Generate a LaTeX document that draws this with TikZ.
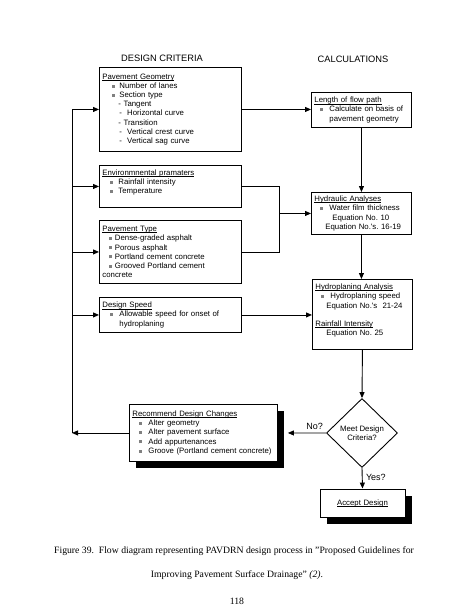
\documentclass[tikz,border=0pt]{standalone}
\usepackage{fontspec}
\setmainfont{Liberation Serif}
\newfontfamily\arial{Liberation Sans}
\usepackage{tikz}
\usetikzlibrary{positioning,arrows.meta,shapes.geometric,shadows}
\frenchspacing
\newcommand{\sqb}{\textcolor{black!50}{\rule[0.8pt]{3pt}{3pt}}}
\newcommand{\ind}[1]{\hspace*{#1pt}}
\newcommand{\ulbox}[1]{\leavevmode\setbox0\hbox{#1}\rlap{\rule[-1.3pt]{\wd0}{0.5pt}}\box0}

\begin{document}
\begin{tikzpicture}[
    x=1pt, y=-1pt,
    >={Triangle[length=6pt,width=5pt]},
    arr/.style={->, line width=0.9pt},
    wire/.style={line width=0.9pt},
    crit/.style={
        rectangle, draw, line width=0.9pt, fill=white, anchor=north west,
        inner xsep=3pt, inner ysep=3pt, align=left,
        font=\arial\fontsize{7.8}{9.2}\selectfont
    },
    calcbox/.style={crit},
    shadowed/.style={
        crit, drop shadow={shadow xshift=7pt, shadow yshift=-7pt, fill=black, opacity=1}
    },
    decide/.style={
        diamond, draw, line width=0.9pt, minimum width=71pt, minimum height=69pt,
        inner sep=0pt, align=center, font=\arial\fontsize{7.8}{9}\selectfont
    },
    head/.style={font=\arial\fontsize{9.3}{11}\selectfont},
    lbl/.style={font=\arial\fontsize{9}{11}\selectfont},
    captext/.style={font=\fontsize{9.7}{12}\selectfont}
]
\useasboundingbox (0,0) rectangle (474,614);

% ---------------- Column heads ----------------
\node[head] (hcrit) at (162,58) {DESIGN CRITERIA};
\node[head] (hcalc) at (353,59) {CALCULATIONS};

% ---------------- Design criteria ----------------
\node[crit, text width=136pt, minimum height=84pt] (geom) at (99,67) {%
\ulbox{Pavement Geometry}\\
\ind{10}\sqb\hspace{4pt}Number of lanes\\
\ind{10}\sqb\hspace{4pt}Section type\\
\ind{16}- Tangent\\
\ind{17}-\ \ Horizontal curve\\
\ind{16}- Transition\\
\ind{17}-\ \ Vertical crest curve\\
\ind{17}-\ \ Vertical sag curve};

\node[crit, text width=136pt, minimum height=42pt] (env) at (99,165) {%
\ulbox{Environmnental pramaters}\\
\ind{8}\sqb\hspace{5pt}Rainfall intensity\\
\ind{8}\sqb\hspace{5pt}Temperature\\ \mbox{}};

\node[crit, text width=136pt, minimum height=63pt] (ptype) at (99,220) {%
\ulbox{Pavement Type}\\
\ind{7}\sqb\hspace{2.5pt}Dense-graded asphalt\\
\ind{7}\sqb\hspace{2.5pt}Porous asphalt\\
\ind{7}\sqb\hspace{2.5pt}Portland cement concrete\\
\ind{7}\sqb\hspace{2.5pt}Grooved Portland cement\\
concrete};

\node[crit, text width=136pt, minimum height=35pt] (speed) at (99,297) {%
\ulbox{Design Speed}\\
\ind{8}\sqb\hspace{6pt}Allowable speed for onset of\\
\ind{17}hydroplaning};

% ---------------- Calculations ----------------
\node[calcbox, text width=94pt, minimum height=35pt] (flow) at (311,92) {%
\ulbox{Length of flow path}\\
\ind{6}\sqb\hspace{6pt}Calculate on basis of\\
\ind{15}pavement geometry};

\node[calcbox, text width=94pt, minimum height=42pt] (hyd) at (311,192) {%
\ulbox{Hydraulic Analyses}\\
\ind{6}\sqb\hspace{6pt}Water film thickness\\
\ind{18}Equation No. 10\\
\ind{11}Equation No.'s. 16-19};

\node[calcbox, text width=94pt, minimum height=70pt] (plane) at (312,279) {%
\ulbox{Hydroplaning Analysis}\\
\ind{6}\sqb\hspace{6pt}Hydroplaning speed\\
\ind{11}Equation No.'s\ \ 21-24\\[9.2pt]
\ulbox{Rainfall Intensity}\\
\ind{11}Equation No. 25\\ \mbox{}};

% ---------------- Decision ----------------
\node[decide] (meet) at (362,433) {Meet Design\\Criteria?};

\node[shadowed, text width=142pt, minimum height=57pt] (change) at (129,404) {%
\ulbox{Recommend Design Changes}\\
\ind{7}\sqb\hspace{6pt}Alter geometry\\
\ind{7}\sqb\hspace{6pt}Alter pavement surface\\
\ind{7}\sqb\hspace{6pt}Add appurtenances\\
\ind{7}\sqb\hspace{6pt}Groove (Portland cement concrete)};

\node[shadowed, anchor=center, align=center, text width=79pt, minimum height=28pt]
    (accept) at (362.5,503) {\ulbox{Accept Design}};

% ---------------- Connectors ----------------
\coordinate (bus) at (72,433);
\coordinate (join) at (279,213);

\draw[arr] (change.west) -- (bus |- change.west);
\draw[wire] (bus |- change.west) -- (bus |- geom.west);
\foreach \b in {geom,env,ptype,speed}
    \draw[arr] (bus |- \b.west) -- (\b.west);

\draw[arr] (geom.east) -- (flow.west |- geom.east);
\draw[arr] (flow.south) -- (flow.south |- hyd.north);
\draw[wire] (env.east) -| (join |- ptype.east) -- (ptype.east);
\draw[arr] (join |- hyd.west) -- (hyd.west);
\draw[arr] (hyd.south) -- (hyd.south |- plane.north);
\draw[arr] (speed.east) -- (plane.west |- speed.east);
\draw[arr] (plane.south) -- (meet.north);
\draw[arr] (meet.west) -- node[lbl, above, pos=0.3] {No?} ([xshift=10pt]change.east);
\draw[arr] (meet.south) -- node[lbl, right, pos=0.45] {Yes?} (accept.north);

% ---------------- Caption ----------------
\node[captext] (cap1) at (234,551) {Figure 39.\ \ Flow diagram representing PAVDRN design process in "Proposed Guidelines for};
\node[captext] (cap2) at (237,575) {Improving Pavement Surface Drainage" \textit{(2)}.};
\node[captext] (page) at (237,601) {118};

\end{tikzpicture}
\end{document}
